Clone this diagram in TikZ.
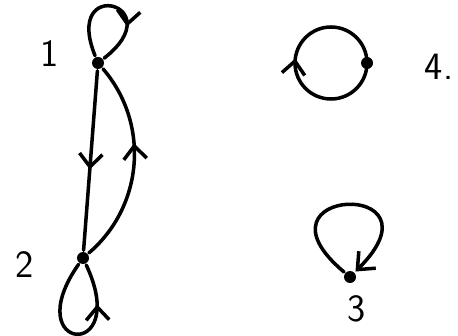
\documentclass[tikz,border=0pt]{standalone}
\usepackage{tikz}
\usetikzlibrary{arrows.meta, decorations.markings}

\begin{document}
\begin{tikzpicture}[line width=2pt, line cap=round,
    vertex/.style={circle, fill, inner sep=0pt, minimum size=2.4mm},
    lbl/.style={font=\sffamily\fontsize{22}{26}\selectfont},
    barb/.style={-{Straight Barb[length=2.8mm, width=4.8mm]}},
    midarrow/.style={postaction={decorate}, decoration={markings,
        mark=at position #1 with {\arrow{Straight Barb[length=2.6mm, width=4.6mm]}}}}]
  \useasboundingbox (0,0) rectangle (9.16,6.70);
  % Vertices
  \node[vertex] (v1) at (1.96,5.44) {};
  \node[vertex] (v2) at (1.66,1.54) {};
  \node[vertex] (v3) at (7.00,1.16) {};
  \node[vertex] (v4) at (7.34,5.44) {};
  % Labels
  \node[lbl] (l1) at (1.00,5.62) {1};
  \node[lbl] (l2) at (0.50,1.40) {2};
  \node[lbl] (l3) at (7.14,0.52) {3};
  \node[lbl] (l4) at (8.78,5.36) {4.};
  % Edges between 1 and 2
  \draw[midarrow=0.55] (v1) -- (v2);
  \draw[midarrow=0.6] (v2) to[bend right=45] (v1);
  % Loops
  \draw[midarrow=0.7] (v1) to[out=112, in=38, distance=1.75cm] (v1);
  \draw[midarrow=0.75] (v2) to[out=-125, in=-65, distance=2.15cm] (v2);
  \draw[barb] (v3) to[out=140, in=45, distance=2.65cm] (v3);
  \draw[midarrow=0.52] (v4.center) arc[start angle=0, end angle=-360, radius=0.72cm];
\end{tikzpicture}
\end{document}
